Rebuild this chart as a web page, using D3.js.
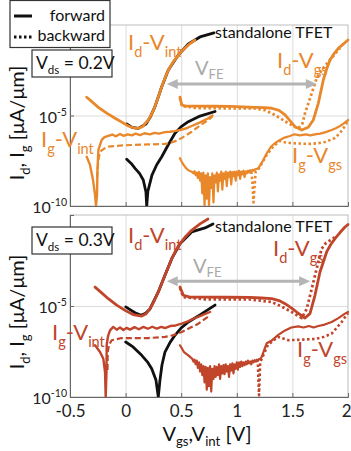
<!DOCTYPE html>
<html><head><meta charset="utf-8">
<script src="https://cdn.jsdelivr.net/npm/d3@7"></script>
<style>
html,body{margin:0;padding:0;background:#fff;}
text{font-family:Lato,"Open Sans",sans-serif;}
</style></head>
<body><svg id="c" width="351" height="451"></svg>
<script>
// ---------- DATA: [V, log10(I in uA/um)] ----------
const xTicks = [-0.5, 0, 0.5, 1, 1.5, 2];
const xTickLabels = ["-0.5", "0", "0.5", "1", "1.5", "2"];
const yTickExp = [-5, -10];
const legendLabels = ["forward", "backward"];
const panelVds = ["0.2V", "0.3V"];

// Top panel, Vds = 0.2 V
const top_TFET_Id = [[0.01,-5.47],[0.058,-5.66],[0.114,-5.71],[0.183,-5.47],[0.225,-5.05],[0.264,-4.51],[0.325,-3.41],[0.384,-2.49],[0.474,-1.66],[0.564,-1.05],[0.669,-0.66],[0.795,-0.44]];
const top_TFET_Ig = [[0.01,-7.42],[0.05,-7.65],[0.085,-7.92],[0.125,-8.2],[0.159,-8.56],[0.183,-9.23],[0.19,-10],[0.20,-9.2],[0.237,-8.29],[0.28,-7.72],[0.325,-7.28],[0.385,-6.6],[0.444,-5.98],[0.50,-5.62],[0.564,-5.34],[0.669,-5.03],[0.804,-4.78]];
const top_Id_Vint = [[-0.35,-3.99],[-0.30,-4.25],[-0.245,-4.55],[-0.17,-4.87],[-0.095,-5.15],[-0.03,-5.38],[0.025,-5.58],[0.07,-5.68],[0.11,-5.71],[0.15,-5.62],[0.204,-5.25],[0.235,-4.92],[0.264,-4.51],[0.295,-3.95],[0.325,-3.41],[0.355,-2.92],[0.384,-2.49],[0.43,-2.02],[0.474,-1.66],[0.52,-1.36],[0.564,-1.10],[0.624,-0.83]];
const top_Ig_Vint_fwd = [[-0.35,-7.28],[-0.32,-7.73],[-0.293,-8.56],[-0.275,-9.39],[-0.266,-10],[-0.257,-9.39],[-0.253,-8.01],[-0.245,-6.91],[-0.215,-6.35],[-0.19,-6.2],[-0.156,-6.13],[-0.12,-6.05],[-0.09,-6.15],[-0.05,-6.02],[-0.02,-6.12],[0.02,-6.04],[0.055,-6.1],[0.09,-6.0],[0.13,-6.08],[0.17,-5.98],[0.22,-6.04],[0.26,-5.96],[0.30,-6.0],[0.354,-5.92],[0.40,-5.90],[0.44,-5.86],[0.489,-5.80],[0.54,-5.72],[0.594,-5.58],[0.67,-5.38],[0.744,-5.15],[0.78,-5.0]];
const top_Ig_Vint_bwd = [[-0.257,-8.45],[-0.245,-7.46],[-0.23,-7.0],[-0.19,-6.82],[-0.156,-6.72],[-0.05,-6.66],[0.055,-6.63],[0.2,-6.6],[0.354,-6.57],[0.42,-6.48],[0.474,-6.35],[0.53,-6.15],[0.594,-5.90],[0.67,-5.55],[0.744,-5.25],[0.78,-5.05]];
const top_Id_Vgs_fwd = [[0.489,-3.99],[0.505,-4.42],[0.543,-4.48],[0.654,-4.48],[0.80,-4.49],[0.939,-4.50],[1.05,-4.52],[1.164,-4.55],[1.25,-4.57],[1.314,-4.60],[1.38,-4.72],[1.434,-4.97],[1.48,-5.3],[1.523,-5.62],[1.584,-5.80],[1.643,-5.65],[1.688,-5.25],[1.733,-4.33],[1.778,-3.04],[1.81,-2.4],[1.838,-1.93],[1.875,-1.58],[1.913,-1.29],[1.96,-1.04],[2.0,-0.83]];
const top_Id_Vgs_bwd = [[0.489,-4.03],[0.507,-4.48],[0.651,-4.59],[0.9,-4.60],[1.164,-4.61],[1.25,-4.7],[1.314,-4.88],[1.39,-5.15],[1.463,-5.43],[1.553,-5.71],[1.59,-5.45],[1.613,-4.88],[1.645,-4.3],[1.674,-3.77],[1.718,-2.94],[1.763,-2.49],[1.838,-1.93],[1.928,-1.27]];
const top_Ig_Vgs_start = [[0.489,-7.36],[0.50,-7.5],[0.516,-7.68],[0.54,-7.88],[0.561,-8.01],[0.59,-8.1]];
const top_floorV = [0.60,0.61,0.62,0.63,0.64,0.65,0.66,0.67,0.68,0.69,0.70,0.71,0.72,0.73,0.74,0.75,0.76,0.77,0.78,0.79,0.80,0.81,0.82,0.83,0.84,0.85,0.86,0.87,0.88,0.89,0.90,0.91,0.92,0.93,0.94,0.95,0.96,0.97,0.98,0.99,1.00,1.01,1.02,1.03,1.04,1.05,1.06,1.07,1.08,1.09,1.10,1.11,1.12,1.13,1.14,1.15,1.16,1.17,1.18];
const top_floorL = [-8.12,-8.2,-8.08,-8.3,-8.15,-8.45,-8.12,-8.6,-8.2,-9.3,-8.15,-10,-8.3,-9.6,-8.2,-10,-8.4,-9.0,-8.2,-9.8,-8.3,-8.7,-8.15,-9.2,-8.25,-8.6,-8.1,-9.1,-8.2,-8.5,-8.1,-8.9,-8.15,-8.4,-8.1,-8.8,-8.12,-8.35,-8.1,-8.6,-8.1,-8.3,-8.05,-8.5,-8.1,-8.25,-8.05,-8.4,-8.08,-8.2,-8.05,-8.15,-8.02,-8.1,-8.0,-8.05,-7.98,-7.97,-7.95];
const top_Ig_Vgs_rise_fwd = [[1.193,-7.92],[1.23,-7.55],[1.269,-7.09],[1.31,-6.7],[1.35,-6.5],[1.388,-6.35],[1.43,-6.22],[1.478,-6.13],[1.52,-6.04],[1.568,-6.1],[1.62,-6.04],[1.66,-6.1],[1.703,-6.04],[1.75,-6.0],[1.80,-5.92],[1.853,-5.80],[1.89,-5.7],[1.928,-5.58],[1.96,-5.45],[2.0,-5.25]];
const top_Ig_Vgs_rise_bwd = [[1.13,-8.1],[1.14,-8.6],[1.15,-9.8],[1.16,-8.9],[1.17,-8.1],[1.19,-8.01],[1.23,-7.6],[1.269,-7.18],[1.33,-6.7],[1.388,-6.41],[1.43,-6.48],[1.478,-6.52],[1.56,-6.55],[1.658,-6.57],[1.73,-6.53],[1.793,-6.46],[1.84,-6.35],[1.883,-6.24],[1.93,-5.95],[1.97,-5.6],[2.0,-5.3]];
const top_VFE = [0.37, 1.72, -3.26];

// Bottom panel, Vds = 0.3 V
const bot_TFET_Id = [[0.001,-5.05],[0.04,-5.2],[0.085,-5.37],[0.139,-5.51],[0.18,-5.4],[0.219,-5.16],[0.294,-4.23],[0.354,-3.31],[0.415,-2.40],[0.489,-1.58],[0.594,-0.93],[0.714,-0.71],[0.786,-0.49]];
const bot_TFET_Ig = [[0.001,-6.98],[0.067,-7.25],[0.145,-7.71],[0.2,-8.1],[0.235,-8.45],[0.273,-9.07],[0.294,-10],[0.309,-9.07],[0.327,-8.24],[0.354,-7.53],[0.40,-7.0],[0.444,-6.61],[0.50,-6.2],[0.564,-5.88],[0.669,-5.49],[0.804,-4.95]];
const bot_Id_Vint = [[-0.275,-3.96],[-0.22,-4.25],[-0.156,-4.60],[-0.08,-4.95],[-0.005,-5.24],[0.067,-5.47],[0.145,-5.55],[0.185,-5.42],[0.219,-5.15],[0.255,-4.75],[0.294,-4.23],[0.354,-3.31],[0.415,-2.40],[0.45,-1.97],[0.489,-1.58],[0.54,-1.18],[0.594,-0.84],[0.669,-0.49],[0.741,-0.22]];
const bot_Ig_Vint_fwd = [[-0.275,-7.16],[-0.23,-7.53],[-0.2,-7.9],[-0.185,-8.63],[-0.179,-10],[-0.172,-8.63],[-0.17,-7.14],[-0.158,-6.65],[-0.14,-6.34],[-0.111,-6.15],[-0.08,-6.3],[-0.05,-6.18],[-0.02,-6.32],[0.01,-6.2],[0.04,-6.3],[0.08,-6.16],[0.12,-6.28],[0.16,-6.15],[0.2,-6.25],[0.24,-6.14],[0.28,-6.24],[0.32,-6.15],[0.354,-6.21],[0.40,-6.1],[0.45,-6.07],[0.505,-5.97],[0.56,-5.84],[0.624,-5.66],[0.69,-5.5],[0.759,-5.33]];
const bot_Ig_Vint_bwd = [[-0.163,-8.52],[-0.161,-7.53],[-0.149,-7.14],[-0.125,-6.88],[-0.035,-6.76],[0.204,-6.76],[0.354,-6.70],[0.43,-6.6],[0.505,-6.43],[0.58,-6.2],[0.654,-5.97],[0.759,-5.51]];
const bot_Id_Vgs_fwd = [[0.489,-3.96],[0.519,-4.41],[0.579,-4.51],[0.714,-4.51],[0.9,-4.52],[1.119,-4.53],[1.22,-4.56],[1.314,-4.60],[1.38,-4.7],[1.434,-4.87],[1.49,-5.1],[1.539,-5.33],[1.613,-5.66],[1.658,-5.42],[1.703,-4.41],[1.748,-3.13],[1.808,-2.03],[1.845,-1.62],[1.883,-1.30],[1.93,-0.95],[1.973,-0.66],[2.0,-0.52]];
const bot_Id_Vgs_bwd = [[0.489,-4.01],[0.519,-4.51],[0.714,-4.63],[1.119,-4.64],[1.314,-4.78],[1.40,-5.02],[1.494,-5.33],[1.584,-5.66],[1.629,-5.15],[1.674,-4.05],[1.718,-2.95],[1.763,-1.85],[1.80,-1.55],[1.85,-1.35],[1.90,-1.15]];
const bot_Ig_Vgs_start = [[0.489,-7.16],[0.525,-7.53],[0.564,-7.71],[0.59,-7.85]];
const bot_floorV = [0.60,0.61,0.62,0.63,0.64,0.65,0.66,0.67,0.68,0.69,0.70,0.71,0.72,0.73,0.74,0.75,0.76,0.77,0.78,0.79,0.80,0.81,0.82,0.83,0.84,0.85,0.86,0.87,0.88,0.89,0.90,0.91,0.92,0.93,0.94,0.95,0.96,0.97,0.98,0.99,1.00,1.01,1.02,1.03,1.04,1.05,1.06,1.07,1.08,1.09,1.10,1.11,1.12,1.13,1.14,1.15,1.16,1.17,1.18,1.19,1.20,1.21,1.22];
const bot_floorL = [-7.9,-8.05,-7.95,-8.2,-8.0,-8.4,-8.1,-8.6,-8.2,-8.8,-8.3,-9.2,-8.35,-9.6,-8.4,-9.4,-8.3,-9.7,-8.45,-9.0,-8.3,-8.9,-8.35,-8.8,-8.2,-9.0,-8.3,-8.7,-8.25,-8.75,-8.2,-8.6,-8.3,-8.9,-8.2,-8.55,-8.15,-8.7,-8.2,-8.45,-8.1,-8.5,-8.1,-8.35,-8.05,-8.3,-8.1,-8.25,-8.05,-8.2,-8.0,-8.15,-8.05,-8.2,-8.0,-8.1,-7.98,-8.05,-7.95,-8.0,-7.92,-7.9,-7.85];
const bot_Ig_Vgs_rise_fwd = [[1.224,-7.79],[1.25,-7.35],[1.269,-7.05],[1.29,-6.98],[1.314,-6.9],[1.37,-6.6],[1.434,-6.34],[1.49,-6.18],[1.553,-6.12],[1.6,-6.18],[1.65,-6.1],[1.69,-6.18],[1.733,-6.1],[1.79,-6.02],[1.853,-5.88],[1.91,-5.68],[1.973,-5.42],[2.0,-5.33]];
const bot_Ig_Vgs_rise_bwd = [[1.18,-7.95],[1.19,-8.2],[1.195,-9.2],[1.2,-9.9],[1.205,-9.0],[1.21,-8.1],[1.227,-7.86],[1.28,-7.14],[1.37,-6.70],[1.463,-6.88],[1.55,-6.86],[1.703,-6.81],[1.78,-6.7],[1.853,-6.52],[1.943,-5.88],[2.0,-5.38]];
const bot_VFE = [0.37, 1.66, -3.64];

// ---------- STYLE ----------
const ORANGE = "#E9872B", RED = "#C0452A", GRAY = "#B5B5B5";
const svg = d3.select("#c");
const x = d3.scaleLinear().domain([-0.5, 2]).range([70, 348]);

function rich(g, px, py, parts, size, color, anchor, subOff) {
  const t = g.append("text").attr("x", px).attr("y", py).attr("font-size", size)
    .attr("fill", color).attr("text-anchor", anchor || "start");
  let cur = 0;
  const so = subOff === undefined ? 0.3 : subOff;
  parts.forEach(([s, k]) => {
    const off = k === 1 ? size * so : k === -1 ? -size * 0.42 : 0;
    t.append("tspan").attr("dy", off - cur).attr("font-size", k ? size * 0.66 : size).text(s);
    cur = off;
  });
  return t;
}

function panel(cfg) {
  const y = d3.scaleLog().domain([1e-10, 1]).range(cfg.range);
  const g = svg.append("g");
  const top = cfg.range[1], bot = cfg.range[0];
  // grid
  g.append("g").attr("transform", `translate(0,${bot})`)
    .call(d3.axisBottom(x).tickValues(xTicks.slice(1, -1)).tickSize(-(bot - top)).tickFormat(""))
    .call(s => { s.select(".domain").remove(); s.selectAll("line").attr("stroke", "#dcdcdc").attr("stroke-width", 1); });
  g.append("g").attr("transform", `translate(70,0)`)
    .call(d3.axisLeft(y).tickValues([1e-5]).tickSize(-(348 - 70)).tickFormat(""))
    .call(s => { s.select(".domain").remove(); s.selectAll("line").attr("stroke", "#dcdcdc").attr("stroke-width", 1); });
  // border
  g.append("rect").attr("x", 70).attr("y", top).attr("width", 278).attr("height", bot - top)
    .attr("fill", "none").attr("stroke", "#bdbdbd").attr("stroke-width", 1);
  // ticks (inward)
  g.append("g").attr("transform", `translate(0,${bot})`)
    .call(d3.axisBottom(x).tickValues(xTicks).tickSize(-4).tickFormat(""))
    .call(s => { s.select(".domain").attr("stroke", "#666"); s.selectAll("line").attr("stroke", "#666"); });
  g.append("g").attr("transform", `translate(70,0)`)
    .call(d3.axisLeft(y).tickValues([1, 1e-5, 1e-10]).tickSize(-4).tickFormat(""))
    .call(s => { s.select(".domain").attr("stroke", "#666"); s.selectAll("line").attr("stroke", "#666"); });
  // y tick labels
  yTickExp.forEach(e => rich(g, 67, y(Math.pow(10, e)) + 7, [["10", 0], [String(e), -1]], 16, "#222", "end"));

  const clipId = "clip" + cfg.id;
  svg.append("clipPath").attr("id", clipId).append("rect")
    .attr("x", 70).attr("y", top - 2).attr("width", 280).attr("height", bot - top + 2);
  const cg = g.append("g").attr("clip-path", `url(#${clipId})`);
  const line = d3.line().x(d => x(d[0])).y(d => y(Math.pow(10, d[1])));
  const draw = (data, color, w, dash) => {
    const p = cg.append("path").attr("d", line(data)).attr("fill", "none")
      .attr("stroke", color).attr("stroke-width", w).attr("stroke-linejoin", "round");
    if (dash) p.attr("stroke-dasharray", dash); else p.attr("stroke-linecap", "round");
    return p;
  };
  const C = cfg.color;
  const floor = cfg.floorV.map((v, i) => [v, cfg.floorL[i]]);
  // Ig-Vgs
  draw(cfg.igVgsStart.concat(floor, cfg.igVgsRiseF), C, 2.2);
  draw(cfg.igVgsRiseB, C, 2.6, "2.5,2.5");
  // Id-Vgs
  draw(cfg.idVgsF, C, 2.8);
  draw(cfg.idVgsB, C, 2.8, "2.5,2.5");
  // standalone TFET
  draw(cfg.tfetIg, "#111", 2.8);
  draw(cfg.tfetId, "#111", 2.8);
  // Ig-Vint
  draw(cfg.igVintB, C, 2.2, "6,3");
  draw(cfg.igVintF, C, 2.4);
  // Id-Vint
  draw(cfg.idVint, C, 2.8);

  // V_FE arrow
  const vy = y(Math.pow(10, cfg.vfe[2])), x1 = x(cfg.vfe[0]), x2 = x(cfg.vfe[1]);
  g.append("line").attr("x1", x1 + 8).attr("x2", x2 - 8).attr("y1", vy).attr("y2", vy)
    .attr("stroke", GRAY).attr("stroke-width", 3);
  g.append("path").attr("d", `M${x1},${vy}L${x1 + 11},${vy - 5}L${x1 + 11},${vy + 5}Z`).attr("fill", GRAY);
  g.append("path").attr("d", `M${x2},${vy}L${x2 - 11},${vy - 5}L${x2 - 11},${vy + 5}Z`).attr("fill", GRAY);
  rich(g, cfg.vfeText[0], cfg.vfeText[1], [["V", 0], ["FE", 1]], 20, "#a9a9a9", "start", 0.22);

  // labels
  const L = cfg.labels;
  rich(g, L.idVint[0], L.idVint[1], [["I", 0], ["d", 1], ["-V", 0], ["int", 1]], 22, C);
  rich(g, L.idVgs[0], L.idVgs[1], [["I", 0], ["d", 1], ["-V", 0], ["gs", 1]], 22, C);
  rich(g, L.igVint[0], L.igVint[1], [["I", 0], ["g", 1], ["-V", 0], ["int", 1]], 22, C);
  rich(g, L.igVgs[0], L.igVgs[1], [["I", 0], ["g", 1], ["-V", 0], ["gs", 1]], 22, C);
  g.append("text").attr("x", L.tfet[0]).attr("y", L.tfet[1]).attr("font-size", 16)
    .attr("fill", "#111").text("standalone TFET");

  // Vds box
  g.append("rect").attr("x", 32).attr("y", cfg.box[1]).attr("width", 80).attr("height", 27)
    .attr("fill", "#fff").attr("stroke", "#333").attr("stroke-width", 1.2);
  rich(g, 36, cfg.box[1] + 19, [["V", 0], ["ds", 1], [" = " + cfg.vds, 0]], 17.5, "#111");

  // y label
  const yl = g.append("text").attr("transform", `translate(24,${cfg.ylabelY}) rotate(-90)`)
    .attr("text-anchor", "middle").attr("font-size", 20).attr("fill", "#111");
  [["I", 0], ["d", 1], [", I", 0], ["g", 1], [" [\u03bcA/\u03bcm]", 0]].reduce((cur, [s, k]) => {
    const off = k ? 6 : 0;
    yl.append("tspan").attr("dy", off - cur).attr("font-size", k ? 13 : 20).text(s);
    return off;
  }, 0);
  return y;
}

panel({
  id: "t", range: [206, 25], color: ORANGE, vds: panelVds[0],
  tfetId: top_TFET_Id, tfetIg: top_TFET_Ig, idVint: top_Id_Vint,
  igVintF: top_Ig_Vint_fwd, igVintB: top_Ig_Vint_bwd,
  idVgsF: top_Id_Vgs_fwd, idVgsB: top_Id_Vgs_bwd,
  igVgsStart: top_Ig_Vgs_start, floorV: top_floorV, floorL: top_floorL,
  igVgsRiseF: top_Ig_Vgs_rise_fwd, igVgsRiseB: top_Ig_Vgs_rise_bwd,
  vfe: top_VFE, vfeText: [195, 75],
  labels: { idVint: [128, 50], idVgs: [277, 68], igVint: [41, 147], igVgs: [292, 163], tfet: [215, 38] },
  box: [32, 50], ylabelY: 123
});
panel({
  id: "b", range: [397, 215], color: RED, vds: panelVds[1],
  tfetId: bot_TFET_Id, tfetIg: bot_TFET_Ig, idVint: bot_Id_Vint,
  igVintF: bot_Ig_Vint_fwd, igVintB: bot_Ig_Vint_bwd,
  idVgsF: bot_Id_Vgs_fwd, idVgsB: bot_Id_Vgs_bwd,
  igVgsStart: bot_Ig_Vgs_start, floorV: bot_floorV, floorL: bot_floorL,
  igVgsRiseF: bot_Ig_Vgs_rise_fwd, igVgsRiseB: bot_Ig_Vgs_rise_bwd,
  vfe: bot_VFE, vfeText: [193, 273],
  labels: { idVint: [128, 243], idVgs: [273, 256], igVint: [52, 340], igVgs: [297, 357], tfet: [215, 232] },
  box: [32, 227], ylabelY: 312
});

// x tick labels
svg.append("g").attr("transform", "translate(0,401)")
  .call(d3.axisBottom(x).tickValues(xTicks).tickSize(0).tickPadding(0).tickFormat((d, i) => xTickLabels[i]))
  .call(s => {
    s.select(".domain").remove();
    s.selectAll("text").attr("font-size", 17).attr("fill", "#222").attr("font-family", "Lato").attr("dy", "0.92em");
    s.selectAll("text").filter(d => d === 2).attr("text-anchor", "end").attr("dx", 3);
  });

// x label
rich(svg, 207, 441, [["V", 0], ["gs", 1], [",V", 0], ["int", 1], [" [V]", 0]], 20, "#111", "middle", 0.25);

// legend
const lg = svg.append("g");
lg.append("rect").attr("x", 10).attr("y", 0.5).attr("width", 100).attr("height", 47)
  .attr("fill", "#fff").attr("stroke", "#333").attr("stroke-width", 1.2);
lg.append("line").attr("x1", 14).attr("x2", 32).attr("y1", 16).attr("y2", 16).attr("stroke", "#111").attr("stroke-width", 3);
lg.append("line").attr("x1", 14).attr("x2", 32).attr("y1", 37).attr("y2", 37).attr("stroke", "#111").attr("stroke-width", 3).attr("stroke-dasharray", "2.5,2.5");
legendLabels.forEach((t, i) => lg.append("text").attr("x", 105).attr("y", 21 + i * 20).attr("text-anchor", "end")
  .attr("font-size", 16).attr("fill", "#111").text(t));
</script></body></html>
